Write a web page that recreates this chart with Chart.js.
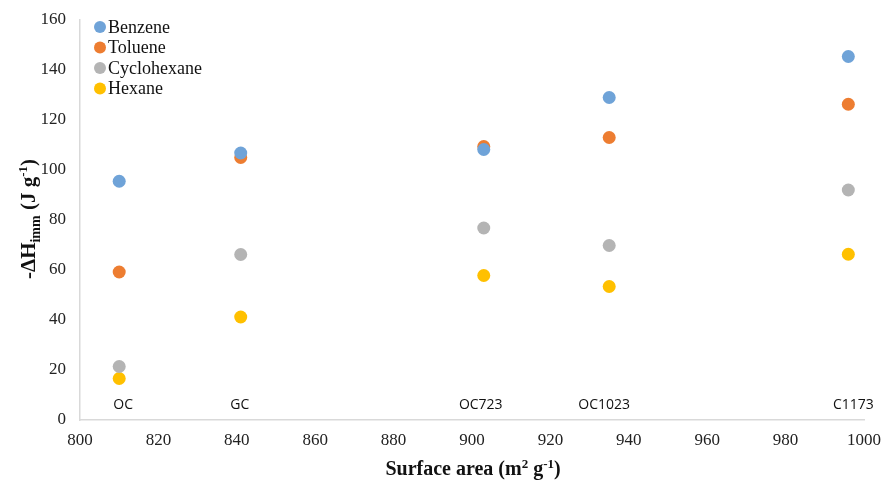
<!DOCTYPE html>
<html>
<head>
<meta charset="utf-8">
<script src="https://cdn.jsdelivr.net/npm/chart.js@4/dist/chart.umd.min.js"></script>
<style>
  html, body { margin: 0; padding: 0; background: #fff; }
  #wrap { width: 887px; height: 481px; position: relative; }
</style>
</head>
<body>
<div id="wrap"><canvas id="c" width="887" height="481"></canvas></div>
<script>
// Samples and their BET surface areas (m2/g)
const samples = ['OC', 'GC', 'OC723', 'OC1023', 'C1173'];
const surfaceArea = [810, 841, 903, 935, 996];

// Immersion enthalpies, -ΔH_imm (J/g)
const benzene     = [95.5, 106.8, 108.2, 129.0, 145.4];
const toluene     = [59.2, 105.0, 109.4, 113.0, 126.3];
const cyclohexane = [21.4, 66.2, 76.8, 69.8, 92.0];
const hexane      = [16.6, 41.2, 57.8, 53.4, 66.3];

const seriesNames = ['Benzene', 'Toluene', 'Cyclohexane', 'Hexane'];
const seriesColors = ['#6FA3D8', '#ED7D31', '#B4B4B4', '#FFC000'];
const seriesValues = [benzene, toluene, cyclohexane, hexane];

const xTicks = [800, 820, 840, 860, 880, 900, 920, 940, 960, 980, 1000];
const yTicks = [0, 20, 40, 60, 80, 100, 120, 140, 160];
const sampleLabelY = 6;
// small horizontal nudges (px) so the sample names sit clear of each other
const sampleLabelNudge = [4, -1, -3, -5, 5];

const serif = '"Liberation Serif", "Times New Roman", serif';

const datasets = seriesNames.map((name, i) => ({
  label: name,
  data: surfaceArea.map((x, j) => ({ x: x, y: seriesValues[i][j] })),
  backgroundColor: seriesColors[i],
  borderColor: seriesColors[i],
  pointRadius: 6.5,
  pointHoverRadius: 6.5,
  borderWidth: 0,
  showLine: false
}));

function partsWidth(ctx, parts) {
  let w = 0;
  parts.forEach(p => {
    ctx.font = 'bold ' + p[2] + 'px ' + serif;
    w += ctx.measureText(p[0]).width;
  });
  return w;
}
function drawParts(ctx, parts, x, y) {
  ctx.textAlign = 'left';
  parts.forEach(p => {
    ctx.font = 'bold ' + p[2] + 'px ' + serif;
    ctx.fillText(p[0], x, y + p[1]);
    x += ctx.measureText(p[0]).width;
  });
}

// Sample names under each column, legend and axis titles
const annotations = {
  id: 'annotations',
  afterDatasetsDraw(chart) {
    const ctx = chart.ctx;
    const xs = chart.scales.x, ys = chart.scales.y;
    ctx.save();
    ctx.fillStyle = '#111';
    ctx.font = '14px "Open Sans", "DejaVu Sans", sans-serif';
    ctx.textAlign = 'center';
    ctx.textBaseline = 'middle';
    samples.forEach((s, i) => {
      ctx.fillText(s, xs.getPixelForValue(surfaceArea[i]) + sampleLabelNudge[i], ys.getPixelForValue(sampleLabelY));
    });

    // legend
    ctx.font = '18px ' + serif;
    ctx.textAlign = 'left';
    seriesNames.forEach((n, i) => {
      const y = 27 + i * 20.5;
      ctx.fillStyle = seriesColors[i];
      ctx.beginPath();
      ctx.arc(100, y, 6, 0, Math.PI * 2);
      ctx.fill();
      ctx.fillStyle = '#111';
      ctx.fillText(n, 108, y + 1);
    });
    ctx.restore();

    // x axis title: Surface area (m² g⁻¹)
    const xparts = [
      ['Surface area (m', 0, 20], ['2', -7, 13], [' g', 0, 20], ['-1', -7, 13], [')', 0, 20]
    ];
    ctx.save();
    ctx.fillStyle = '#111';
    ctx.textBaseline = 'alphabetic';
    const wX = partsWidth(ctx, xparts);
    drawParts(ctx, xparts, 473 - wX / 2, 475);
    ctx.restore();

    // y axis title: -ΔH_imm (J g⁻¹), rotated
    const yparts = [
      ['-ΔH', 0, 21], ['imm', 5, 14], [' (J g', 0, 21], ['-1', -8, 13], [')', 0, 21]
    ];
    ctx.save();
    ctx.fillStyle = '#111';
    ctx.textBaseline = 'alphabetic';
    const wY = partsWidth(ctx, yparts);
    ctx.translate(35, 219);
    ctx.rotate(-Math.PI / 2);
    drawParts(ctx, yparts, -wY / 2, 0);
    ctx.restore();
  }
};

new Chart(document.getElementById('c'), {
  type: 'scatter',
  data: { datasets },
  options: {
    responsive: false,
    animation: false,
    events: [],
    layout: { padding: { left: 0, right: 23, top: 20, bottom: 0 } },
    plugins: { legend: { display: false }, tooltip: { enabled: false } },
    scales: {
      x: {
        type: 'linear',
        min: 800, max: 1000,
        afterBuildTicks(scale) { scale.ticks = xTicks.map(v => ({ value: v })); },
        afterFit(scale) {
          scale.height = 61;
          scale.paddingLeft = 0;
          scale.paddingRight = 0;
        },
        grid: { display: false, drawTicks: false },
        border: { display: true, color: '#D9D9D9', width: 1.5 },
        ticks: {
          color: '#222', padding: 10, font: { family: serif, size: 17 },
          maxRotation: 0, autoSkip: false,
          callback: v => String(v)
        }
      },
      y: {
        min: 0, max: 160,
        afterBuildTicks(scale) { scale.ticks = yTicks.map(v => ({ value: v })); },
        afterFit(scale) {
          scale.width = 80;
          scale.paddingTop = 0;
          scale.paddingBottom = 0;
        },
        grid: { display: false, drawTicks: false },
        border: { display: true, color: '#D9D9D9', width: 1.5 },
        ticks: { color: '#222', padding: 14, font: { family: serif, size: 17 }, callback: v => String(v) }
      }
    }
  },
  plugins: [annotations]
});
</script>
</body>
</html>
